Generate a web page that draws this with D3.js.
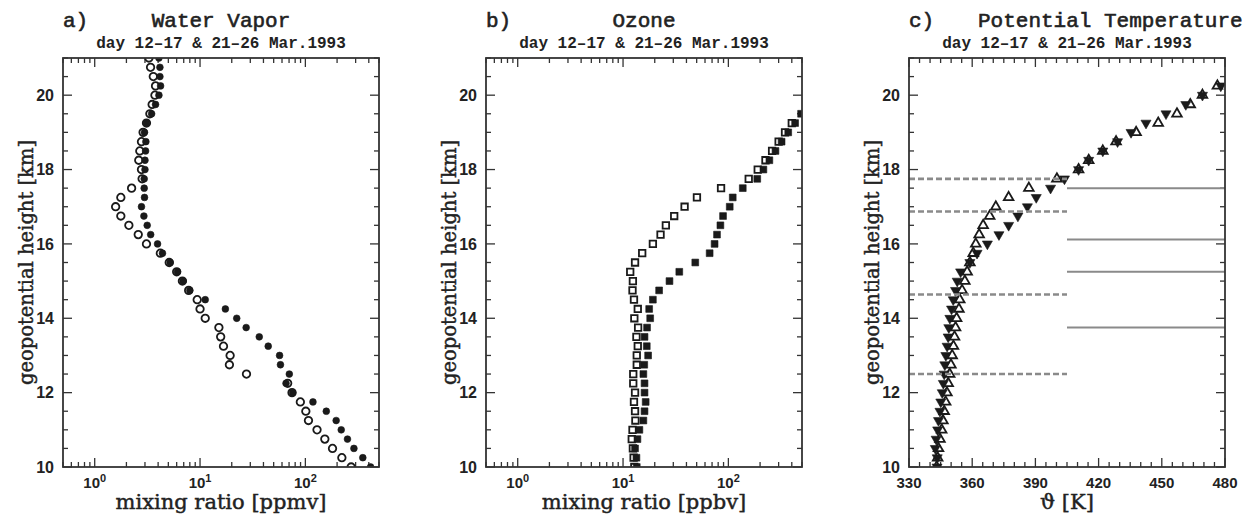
<!DOCTYPE html>
<html>
<head>
<meta charset="utf-8">
<script src="https://cdn.jsdelivr.net/npm/d3@7"></script>
<style>
  body { margin: 0; background: #fff; }
  text { fill: #222; }
</style>
</head>
<body>
<div class="chart"></div>
<script>
// ---- data ----
const wvHeights = [10, 10.25, 10.5, 10.75, 11, 11.25, 11.5, 11.75, 12, 12.25, 12.5, 12.75, 13, 13.25, 13.5, 13.75,
  14, 14.25, 14.5, 14.75, 15, 15.25, 15.5, 15.75, 16, 16.25, 16.5, 16.75, 17, 17.25, 17.5, 17.75,
  18, 18.25, 18.5, 18.75, 19, 19.25, 19.5, 19.75, 20, 20.25, 20.5, 20.75, 21];
const wvOpen = [272, 222, 181, 153, 129, 107, 101, 89.6, 74.7, 67.9, 27.6, 19.0, 19.3, 16.7, 15.7, 15.1,
  11.2, 10.0, 9.4, 7.8, 6.8, 6.0, 5.1, 4.2, 3.1, 2.59, 2.11, 1.77, 1.58, 1.77, 2.24, 2.82,
  2.78, 2.62, 2.68, 2.78, 2.88, 3.1, 3.34, 3.51, 3.73, 3.78, 3.6, 3.39, 3.27];
const wvFilled = [416, 351, 289, 251, 219, 196, 158, 118, 75.7, 65.5, 70.4, 58, 56.9, 44.4, 36.5, 27.4,
  22.3, 17.4, 11.2, 8.0, 6.9, 6.1, 5.2, 4.4, 3.95, 3.4, 3.15, 2.93, 2.78, 2.97, 2.95, 2.95,
  3.0, 3.0, 3.04, 3.06, 2.97, 3.1, 3.47, 3.78, 4.07, 4.22, 4.16, 4.16, 4.07];

const o3HeightsOpen = [10, 10.25, 10.5, 10.75, 11, 11.25, 11.5, 11.75, 12, 12.25, 12.5, 12.75, 13, 13.25, 13.5, 13.75,
  14, 14.25, 14.5, 14.75, 15, 15.25, 15.5, 15.75, 16, 16.25, 16.5, 16.75, 17, 17.25, 17.5, 17.75,
  18, 18.25, 18.5, 18.75, 19, 19.25];
const o3Open = [12.8, 12.6, 12.4, 12.1, 12.3, 13.1, 13.0, 12.7, 13.0, 12.5, 12.5, 13.5, 13.5, 13.8, 13.4, 13.9,
  12.8, 13.8, 12.7, 12.3, 12.4, 11.7, 13.0, 15.2, 19.2, 22.7, 25.5, 30.6, 38.4, 50.3, 85.2, 156,
  190, 225, 260, 300, 345, 400];
const o3HeightsFilled = [10, 10.25, 10.5, 10.75, 11, 11.25, 11.5, 11.75, 12, 12.25, 12.5, 12.75, 13, 13.25, 13.5, 13.75,
  14, 14.25, 14.5, 14.75, 15, 15.25, 15.5, 15.75, 16, 16.25, 16.5, 16.75, 17, 17.25, 17.5, 17.75,
  18, 18.25, 18.5, 18.75, 19, 19.25, 19.5];
const o3Filled = [13.5, 13.4, 13.0, 13.7, 14.3, 15.6, 16.0, 16.4, 16.0, 16.0, 15.6, 15.9, 17.3, 16.8, 16.0, 16.9,
  18.1, 17.7, 19.2, 22.0, 27.6, 34.2, 48.5, 66.4, 74, 78, 84, 89, 103, 110, 137, 188,
  215, 245, 280, 320, 370, 430, 490];

const thHeights = [10, 10.25, 10.5, 10.75, 11, 11.25, 11.5, 11.75, 12, 12.25, 12.5, 12.75, 13, 13.25, 13.5, 13.75,
  14, 14.25, 14.5, 14.75, 15, 15.25, 15.5, 15.75, 16, 16.25, 16.5, 16.75, 17, 17.25, 17.5, 17.75,
  18, 18.25, 18.5, 18.75, 19, 19.25, 19.5, 19.75, 20, 20.25];
const thOpen = [343.1, 343.6, 344.0, 344.7, 345.5, 346.1, 346.7, 347.4, 348.0, 348.6, 349.3, 349.9, 350.5, 351.1, 351.6, 352.1,
  352.6, 353.7, 354.1, 355.2, 356.5, 357.6, 358.9, 360.5, 361.7, 363.3, 365.2, 368.3, 371.2, 377.3, 386.9, 400.2,
  410.5, 415.3, 422, 428.3, 437.8, 448.3, 457.2, 463.5, 469.3, 476.4];
const thFilled = [343.3, 343.4, 342.5, 342.9, 343.6, 344.0, 344.7, 345.1, 345.8, 346.3, 346.7, 347.0, 347.5, 348.1, 348.6, 348.9,
  349.4, 350.2, 351.0, 352.1, 352.9, 354.5, 358.9, 362.3, 367.2, 372.7, 377.3, 381.7, 386.2, 390.4, 397.2, 403.8,
  410.5, 415.3, 422, 429, 435.4, 442.5, 452, 461.4, 469.3, 478];

// reference levels in panel c (km): dashed left of 405 K, solid right of it
const dashedLevels = [17.75, 16.87, 14.64, 12.5];
const solidLevels = [17.5, 16.12, 15.25, 13.75];
const levelSplit = 405;

const yTicks = [10, 12, 14, 16, 18, 20];
const thTicks = [330, 360, 390, 420, 450, 480];
const subtitle = 'day 12\u201317 & 21\u201326  Mar.1993';

// ---- layout ----
const W = 1247, H = 520;
const plotTop = 58, plotBottom = 467, pw = 316;
const lefts = [63, 486, 909];
const ink = '#1a1a1a', axisCol = '#333';

const svg = d3.select('.chart').append('svg')
  .attr('width', W).attr('height', H)
  .style('font-family', 'Liberation Sans, Arial, sans-serif');

const y = d3.scaleLinear().domain([10, 21]).range([plotBottom, plotTop]);

function serif(sel, size) {
  return sel.style('font-family', 'DejaVu Serif, serif').style('font-size', size + 'px')
    .attr('stroke', '#222').attr('stroke-width', 0.45);
}

function panel(i, title, xlabel, titleAnchor) {
  const L = lefts[i], R = L + pw, cx = (L + R) / 2;
  const g = svg.append('g');

  // title + subtitle
  g.append('text').attr('x', L).attr('y', 27)
    .style('font-family', 'Liberation Mono, monospace').style('font-size', '21px')
    .attr('stroke', '#222').attr('stroke-width', 0.6)
    .text('abc'[i] + ')');
  g.append('text').attr('x', titleAnchor || cx).attr('y', 27)
    .attr('text-anchor', titleAnchor ? 'start' : 'middle')
    .style('font-family', 'Liberation Mono, monospace').style('font-size', '21px')
    .attr('stroke', '#222').attr('stroke-width', 0.6)
    .text(title);
  g.append('text').attr('x', cx).attr('y', 48).attr('text-anchor', 'middle')
    .style('font-family', 'Liberation Mono, monospace').style('font-size', '16px')
    .style('font-weight', 'bold')
    .text(subtitle);

  // clip
  g.append('clipPath').attr('id', 'clip' + i)
    .append('rect').attr('x', L).attr('y', plotTop).attr('width', pw).attr('height', plotBottom - plotTop);

  // y ticks (left and right, inward)
  const yMinor = d3.range(10, 21.01, 0.5);
  yMinor.forEach(v => {
    const major = yTicks.includes(v);
    const len = major ? 9 : 5;
    g.append('line').attr('x1', L).attr('x2', L + len).attr('y1', y(v)).attr('y2', y(v))
      .attr('stroke', axisCol).attr('stroke-width', 1.3);
    g.append('line').attr('x1', R).attr('x2', R - len).attr('y1', y(v)).attr('y2', y(v))
      .attr('stroke', axisCol).attr('stroke-width', 1.3);
  });
  g.selectAll('.ylab').data(yTicks).join('text')
    .attr('x', L - 9).attr('y', d => y(d)).attr('dy', '0.36em')
    .attr('text-anchor', 'end')
    .style('font-size', '16px').style('font-weight', 'bold')
    .text(d => d);

  // y label
  serif(g.append('text'), 19.5)
    .attr('transform', `translate(${L - 37},${(plotTop + plotBottom) / 2}) rotate(-90)`)
    .attr('text-anchor', 'middle').attr('dy', '0.35em')
    .text('geopotential height [km]');

  // x label
  serif(g.append('text'), 21)
    .attr('x', cx).attr('y', 509).attr('text-anchor', 'middle')
    .text(xlabel);

  return { g, L, R, cx };
}

function xTicks(p, x, ticks, isMajor) {
  ticks.forEach(v => {
    const len = isMajor(v) ? 9 : 5;
    const px = x(v);
    p.g.append('line').attr('x1', px).attr('x2', px).attr('y1', plotBottom).attr('y2', plotBottom - len)
      .attr('stroke', axisCol).attr('stroke-width', 1.3);
    p.g.append('line').attr('x1', px).attr('x2', px).attr('y1', plotTop).attr('y2', plotTop + len)
      .attr('stroke', axisCol).attr('stroke-width', 1.3);
  });
}

function frame(p) {
  p.g.append('rect').attr('x', p.L).attr('y', plotTop).attr('width', pw).attr('height', plotBottom - plotTop)
    .attr('fill', 'none').attr('stroke', axisCol).attr('stroke-width', 1.8);
}

function logLabels(p, x) {
  [1, 10, 100].forEach(v => {
    const t = p.g.append('text').attr('x', x(v)).attr('y', 488).attr('text-anchor', 'middle')
      .style('font-size', '15px').style('font-weight', 'bold');
    t.append('tspan').text('10');
    t.append('tspan').attr('dy', '-6').style('font-size', '11px').text(Math.log10(v));
  });
}

function marks(p, i, xs, hs, x, sym, size, filled, rot) {
  p.g.append('g').attr('clip-path', `url(#clip${i})`)
    .selectAll('path').data(xs).join('path')
    .attr('d', d3.symbol().type(sym).size(size))
    .attr('transform', (d, k) => `translate(${x(d)},${y(hs[k])})` + (rot ? ' rotate(180)' : ''))
    .attr('fill', filled ? ink : '#fff')
    .attr('stroke', ink).attr('stroke-width', filled ? 0.6 : 1.8);
}

const isDecade = v => Math.abs(Math.log10(v) - Math.round(Math.log10(v))) < 1e-9;

// ---- panel a: water vapour ----
const xa = d3.scaleLog().domain([0.5, 500]).range([lefts[0], lefts[0] + pw]);
const pa = panel(0, 'Water Vapor', 'mixing ratio [ppmv]');
xTicks(pa, xa, xa.ticks(), isDecade);
logLabels(pa, xa);
marks(pa, 0, wvOpen, wvHeights, xa, d3.symbolCircle, 44, false);
marks(pa, 0, wvFilled, wvHeights, xa, d3.symbolCircle, 36, true);
frame(pa);

// ---- panel b: ozone ----
const xb = d3.scaleLog().domain([0.5, 500]).range([lefts[1], lefts[1] + pw]);
const pb = panel(1, 'Ozone', 'mixing ratio [ppbv]');
xTicks(pb, xb, xb.ticks(), isDecade);
logLabels(pb, xb);
marks(pb, 1, o3Open, o3HeightsOpen, xb, d3.symbolSquare, 42, false);
marks(pb, 1, o3Filled, o3HeightsFilled, xb, d3.symbolSquare, 46, true);
frame(pb);

// ---- panel c: potential temperature ----
const xc = d3.scaleLinear().domain([330, 480]).range([lefts[2], lefts[2] + pw]);
const pc = panel(2, 'Potential Temperature', '\u03d1 [K]', 978);
xTicks(pc, xc, d3.range(330, 480.1, 5), v => v % 30 === 0);
pc.g.selectAll('.xlab').data(thTicks).join('text')
  .attr('x', d => xc(d)).attr('y', 488).attr('text-anchor', 'middle')
  .style('font-size', '15px').style('font-weight', 'bold')
  .text(d => d);
marks(pc, 2, thOpen, thHeights, xc, d3.symbolTriangle, 40, false);
marks(pc, 2, thFilled, thHeights, xc, d3.symbolTriangle, 44, true, true);
pc.g.selectAll('.dash').data(dashedLevels).join('line')
  .attr('x1', xc(330)).attr('x2', xc(levelSplit))
  .attr('y1', d => y(d)).attr('y2', d => y(d))
  .attr('stroke', '#8a8a8a').attr('stroke-width', 2.6).attr('stroke-dasharray', '6,3');
pc.g.selectAll('.solid').data(solidLevels).join('line')
  .attr('x1', xc(levelSplit)).attr('x2', xc(480))
  .attr('y1', d => y(d)).attr('y2', d => y(d))
  .attr('stroke', '#8a8a8a').attr('stroke-width', 2);
frame(pc);
</script>
</body>
</html>
